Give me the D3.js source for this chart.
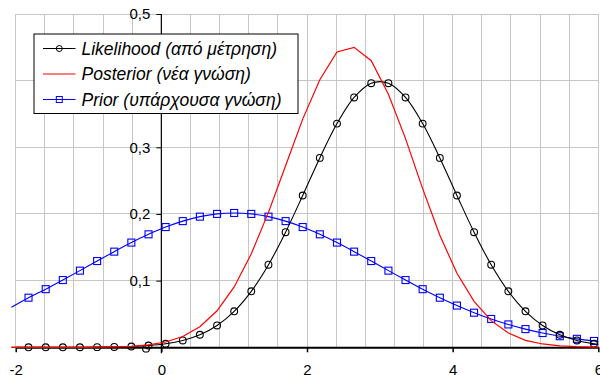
<!DOCTYPE html>
<html><head><meta charset="utf-8">
<script src="https://cdn.jsdelivr.net/npm/d3@7"></script>
<style>
html,body{margin:0;padding:0;background:#fff;}
svg{display:block;font-family:Arial,"Liberation Sans",sans-serif;}
</style></head>
<body><svg id="c" width="600" height="375"></svg>
<script>
// x positions of the sampled points (first/last are line-only end points)
const xValues = [-2.059, -1.824, -1.588, -1.353, -1.118, -0.882, -0.647, -0.412, -0.176,
  0.059, 0.294, 0.529, 0.765, 1.0, 1.235, 1.471, 1.706, 1.941, 2.176, 2.412, 2.647,
  2.882, 3.118, 3.353, 3.588, 3.824, 4.059, 4.294, 4.529, 4.765, 5.0, 5.235, 5.471,
  5.706, 5.941, 6.0];
const likelihood = [0.0000, 0.0000, 0.0000, 0.0000, 0.0001, 0.0002, 0.0005, 0.0012, 0.0026,
  0.0053, 0.0103, 0.0188, 0.0328, 0.0540, 0.0840, 0.1239, 0.1727, 0.2277, 0.2841, 0.3356, 0.3748,
  0.3962, 0.3962, 0.3748, 0.3356, 0.2841, 0.2277, 0.1727, 0.1239, 0.0840, 0.0540, 0.0328, 0.0188,
  0.0103, 0.0053, 0.0044];
const posterior = [0.0000, 0.0000, 0.0000, 0.0000, 0.0000, 0.0002, 0.0006, 0.0015, 0.0036,
  0.0079, 0.0162, 0.0308, 0.0548, 0.0906, 0.1402, 0.2024, 0.2724, 0.3423, 0.4013, 0.4430, 0.4500,
  0.4300, 0.3797, 0.3130, 0.2380, 0.1680, 0.1110, 0.0690, 0.0400, 0.0215, 0.0105, 0.0050, 0.0022,
  0.0009, 0.0004, 0.0003];
const prior = [0.0600, 0.0744, 0.0872, 0.1009, 0.1150, 0.1294, 0.1435, 0.1571, 0.1695,
  0.1804, 0.1893, 0.1960, 0.2001, 0.2015, 0.2001, 0.1960, 0.1893, 0.1804, 0.1695, 0.1571, 0.1435,
  0.1294, 0.1150, 0.1009, 0.0872, 0.0744, 0.0626, 0.0519, 0.0425, 0.0343, 0.0273, 0.0214, 0.0166,
  0.0127, 0.0095, 0.0088];
// a stray likelihood marker visible just left of the origin
const strayX = [-0.21];
const strayY = [-0.002];

const xTicks = [-2, 0, 2, 4, 6];
const yTicks = [0.1, 0.2, 0.3, 0.4, 0.5];
const seriesNames = ["Likelihood (από μέτρηση)", "Posterior (νέα γνώση)", "Prior (υπάρχουσα γνώση)"];

const svg = d3.select("#c");
const x = d3.scaleLinear().domain([-2, 6]).range([15.7, 598.3]);
const y = d3.scaleLinear().domain([0, 0.5]).range([347.3, 14]);

// gridlines
const grid = svg.append("g").attr("stroke", "#c6c6c6").attr("stroke-width", 1).attr("shape-rendering", "crispEdges");
grid.selectAll("line.v").data(d3.range(21).map(i => -2 + i * 0.4)).join("line")
  .attr("x1", d => x(d)).attr("x2", d => x(d)).attr("y1", y(0.5)).attr("y2", y(0));
grid.selectAll("line.h").data(yTicks).join("line")
  .attr("x1", x(-2)).attr("x2", x(6)).attr("y1", d => y(d)).attr("y2", d => y(d));

// axes
const fmt = d => d3.format(".1f")(d).replace(".", ",");
const yAxis = svg.append("g").attr("transform", `translate(${x(0)},0)`)
  .call(d3.axisLeft(y).tickValues(yTicks).tickSize(5).tickSizeOuter(0).tickPadding(6).tickFormat(fmt));
yAxis.select(".domain").attr("stroke", "#000").attr("stroke-width", 1.2);
yAxis.selectAll("text").attr("font-size", 15).attr("font-family", "Arial, 'Liberation Sans', sans-serif").attr("fill", "#000");
yAxis.select(".domain").attr("d", `M0,${y(0.5)}V${y(0) + 6}`);

const xAxis = svg.append("g").attr("transform", `translate(0,${y(0)})`)
  .call(d3.axisBottom(x).tickValues(xTicks).tickSize(5).tickSizeOuter(0).tickPadding(12).tickFormat(d3.format("d")));
xAxis.select(".domain").attr("stroke", "#000").attr("stroke-width", 2);
xAxis.selectAll(".tick line").attr("stroke-width", 1.5);
xAxis.selectAll("text").attr("font-size", 15).attr("font-family", "Arial, 'Liberation Sans', sans-serif").attr("fill", "#000")
  .text(d => d < 0 ? "-" + Math.abs(d) : d);

const pts = arr => xValues.map((v, i) => [v, arr[i]]);
const mk = arr => xValues.map((v, i) => [v, arr[i]]).slice(1, -1);

const lineSmooth = d3.line().x(d => x(d[0])).y(d => y(d[1])).curve(d3.curveCatmullRom.alpha(0.5));
const lineStraight = d3.line().x(d => x(d[0])).y(d => y(d[1]));

// prior
svg.append("path").attr("d", lineSmooth(pts(prior))).attr("fill", "none").attr("stroke", "#0000ff").attr("stroke-width", 1.1);
svg.append("g").selectAll("rect").data(mk(prior)).join("rect")
  .attr("x", d => x(d[0]) - 3.5).attr("y", d => y(d[1]) - 3.5).attr("width", 7).attr("height", 7)
  .attr("fill", "none").attr("stroke", "#0000ff").attr("stroke-width", 1.1);

// likelihood
svg.append("path").attr("d", lineSmooth(pts(likelihood))).attr("fill", "none").attr("stroke", "#000").attr("stroke-width", 1.1);
svg.append("g").selectAll("circle").data(mk(likelihood).concat(strayX.map((v, i) => [v, strayY[i]]))).join("circle")
  .attr("cx", d => x(d[0])).attr("cy", d => y(d[1])).attr("r", 3.4)
  .attr("fill", "none").attr("stroke", "#000").attr("stroke-width", 1.1);

// posterior
svg.append("path").attr("d", lineStraight(pts(posterior))).attr("fill", "none").attr("stroke", "#ff0000").attr("stroke-width", 1.2);

// legend
const lg = svg.append("g");
lg.append("rect").attr("x", 34).attr("y", 34).attr("width", 264).attr("height", 79.5)
  .attr("fill", "#fff").attr("stroke", "#000").attr("stroke-width", 1);
const colors = ["#000", "#ff0000", "#0000ff"];
const rows = [48.5, 74, 99.5];
seriesNames.forEach((name, i) => {
  const r = rows[i];
  lg.append("line").attr("x1", 43).attr("x2", 75.5).attr("y1", r).attr("y2", r).attr("stroke", colors[i]).attr("stroke-width", 1.1);
  if (i === 0) lg.append("circle").attr("cx", 59.3).attr("cy", r).attr("r", 3).attr("fill", "none").attr("stroke", "#000");
  if (i === 2) lg.append("rect").attr("x", 56.3).attr("y", r - 3).attr("width", 6).attr("height", 6).attr("fill", "none").attr("stroke", "#0000ff");
  lg.append("text").attr("x", 81.5).attr("y", r).attr("dy", "0.37em").attr("font-size", 17.5).attr("font-style", "italic")
    .attr("fill", "#000").text(name);
});
</script></body></html>
